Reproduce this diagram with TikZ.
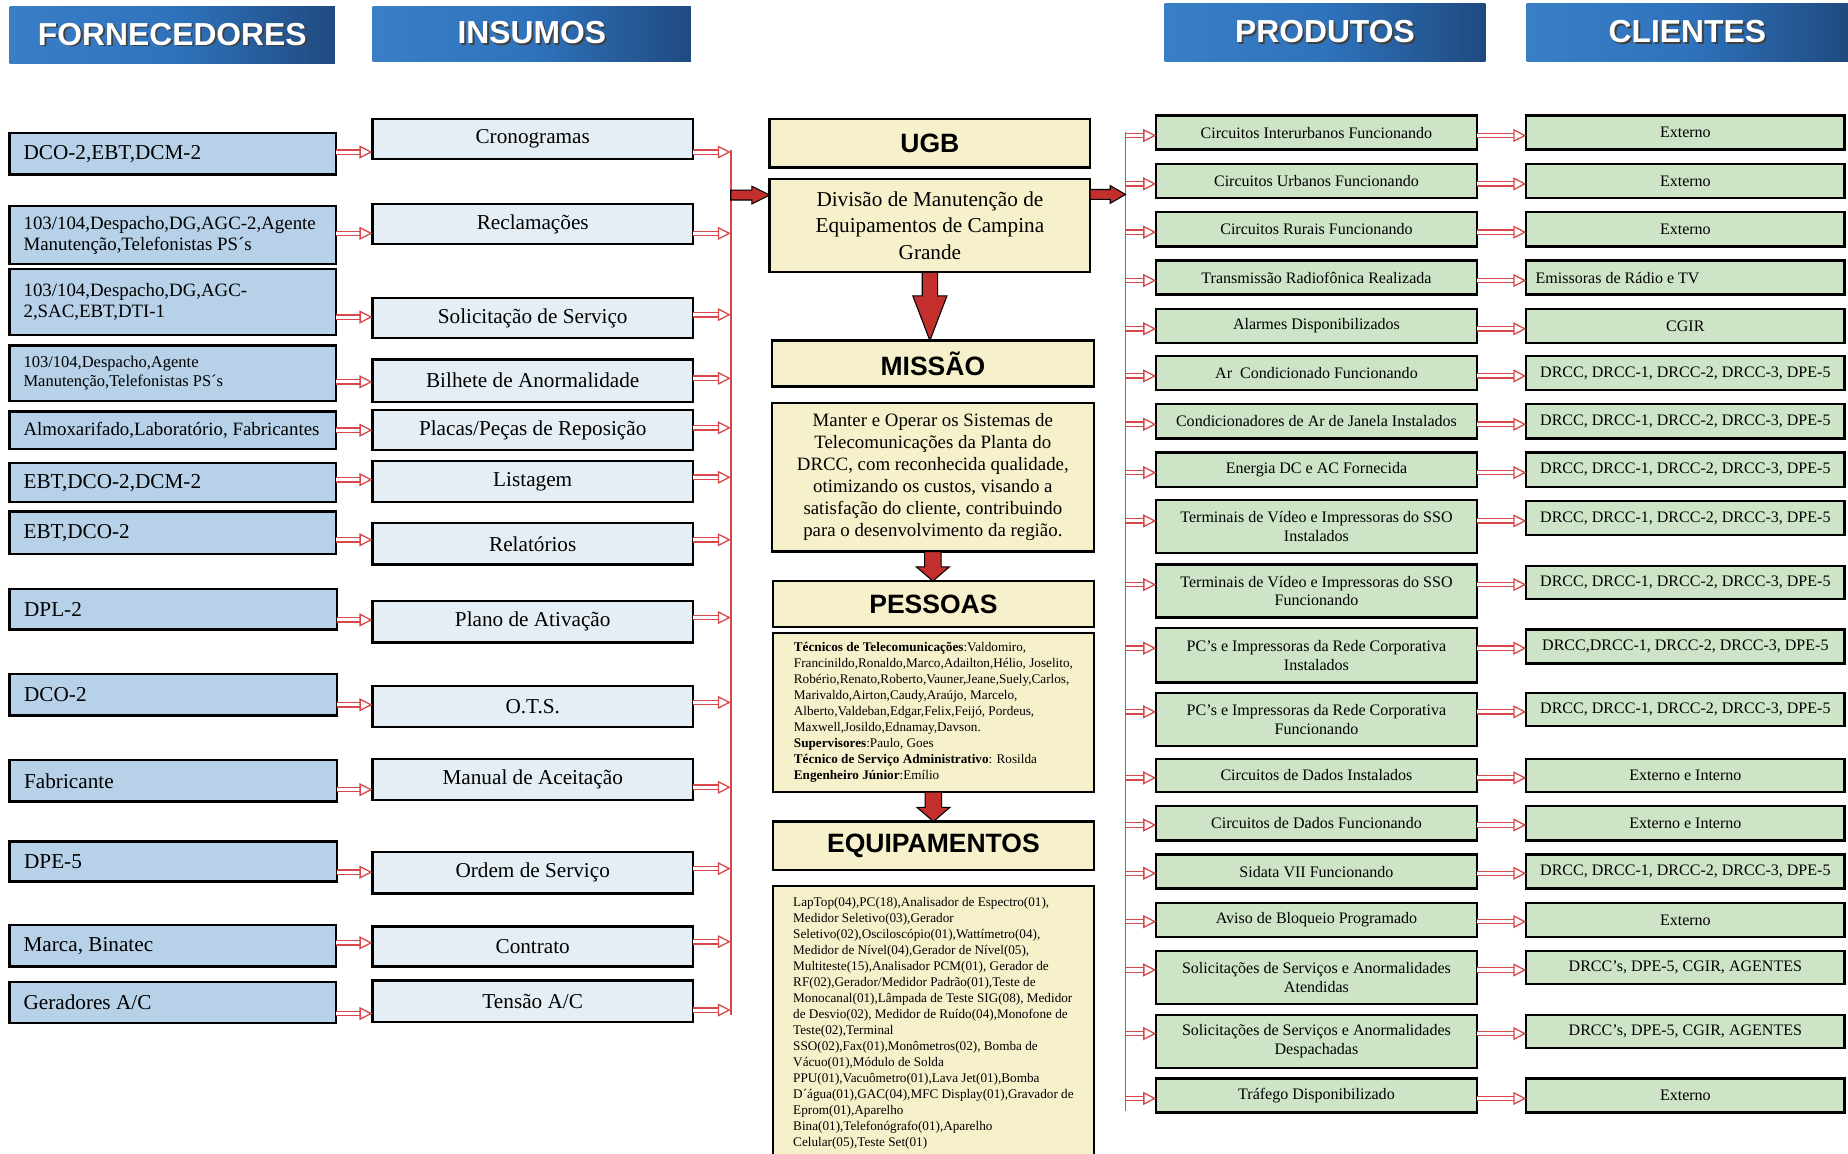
\documentclass[tikz,border=0pt]{standalone}
\usepackage{fontspec}
\setmainfont{Liberation Serif}
\setsansfont{Liberation Sans}
\usetikzlibrary{arrows.meta,calc}
\definecolor{hdrA}{HTML}{3A7EC6}
\definecolor{hdrM}{HTML}{2F73BD}
\definecolor{hdrB}{HTML}{1F4A80}
\definecolor{supblue}{HTML}{B6D1E8}
\definecolor{insbg}{HTML}{E5EEF4}
\definecolor{cream}{HTML}{F7F1CB}
\definecolor{grn}{HTML}{CDE5C6}
\definecolor{arrred}{HTML}{D8474A}
\definecolor{blkred}{HTML}{C22F2D}
\newcommand\shd[1]{\rlap{\kern1.6pt\raisebox{-1.6pt}{\textcolor{black!75}{#1}}}#1}
\newcommand\bx[7]{\node[#1, anchor=north west, minimum width={(#5-#3)*1pt}, minimum height={(#6-#4)*1pt}] (#2) at (#3,#4) {#7};}
\newcommand\darrow[5]{\filldraw[blk] let \p1=(#1), \p2=(#2) in (\x1-#3,\y1) -- (\x1+#3,\y1) -- (\x1+#3,\y2+#5) -- (\x1+#4,\y2+#5) -- (\x1,\y2) -- (\x1-#4,\y2+#5) -- (\x1-#3,\y2+#5) -- cycle;}
\newcommand\harrow[5]{\filldraw[blk] let \p1=(#1), \p2=(#2) in (\x1,\y1-#3) -- (\x1,\y1+#3) -- (\x2-#5,\y1+#3) -- (\x2-#5,\y1+#4) -- (\x2,\y1) -- (\x2-#5,\y1-#4) -- (\x2-#5,\y1-#3) -- cycle;}
\tikzset{
  box/.style={draw=black, line width=2pt, outer sep=0pt, inner sep=2pt},
  hdr/.style={left color=hdrA, right color=hdrB, middle color=hdrM, text=white, font=\sffamily\bfseries\fontsize{27}{30}\selectfont, inner sep=0pt},
  sup/.style={box, fill=supblue, align=flush left, text width=253pt, inner xsep=12pt, font=\fontsize{18}{20}\selectfont},
  ins/.style={box, fill=insbg, font=\fontsize{18}{20}\selectfont},
  ttl/.style={box, fill=cream, font=\sffamily\bfseries\fontsize{22.5}{24}\selectfont},
  ctx/.style={box, fill=cream},
  prd/.style={box, fill=grn, align=flush center, font=\fontsize{13.6}{16}\selectfont},
  lft/.style={align=flush left, text width=254pt, inner xsep=8pt},
  dbl/.style={draw=arrred, line width=1.1pt, double=white, double distance=2.6pt, -{Triangle[open, length=11pt, width=11pt, line width=1.1pt]}},
  bus/.style={draw=arrred, line width=1.5pt},
  blk/.style={fill=blkred, draw=black, line width=0.9pt, line join=miter}
}
\begin{document}
\begin{tikzpicture}[x=1pt,y=-1pt]
\useasboundingbox[fill=white] (0,0) rectangle (1568,979);
% headers
\bx{hdr}{hF}{8}{5}{284}{54}{\shd{FORNECEDORES}}
\bx{hdr}{hI}{316}{5}{586}{52}{\shd{INSUMOS}}
\bx{hdr}{hP}{988}{3}{1260}{52}{\shd{PRODUTOS}}
\bx{hdr}{hC}{1295}{3}{1568}{52}{\shd{CLIENTES}}
% suppliers
\bx{sup}{s1}{8}{113}{285}{148}{DCO-2,EBT,DCM-2}
\bx{sup, font=\fontsize{16}{18}\selectfont}{s2}{8}{175}{285}{224}{103/104,Despacho,DG,AGC-2,Agente\\Manutenção,Telefonistas PS´s}
\bx{sup, font=\fontsize{16}{17.5}\selectfont}{s3}{8}{228}{285}{284}{103/104,Despacho,DG,AGC-\\2,SAC,EBT,DTI-1}
\bx{sup, font=\fontsize{14}{16}\selectfont}{s4}{8}{293}{285}{340}{103/104,Despacho,Agente\\Manutenção,Telefonistas PS´s}
\bx{sup, font=\fontsize{16}{18}\selectfont}{s5}{8}{349}{285}{381}{Almoxarifado,Laboratório, Fabricantes}
\bx{sup}{s6}{8}{393}{285}{426}{EBT,DCO-2,DCM-2}
\bx{sup}{s7}{8}{434}{285}{470}{EBT,DCO-2}
\bx{sup}{s8}{8}{500}{286}{534}{DPL-2}
\bx{sup}{s9}{8}{572}{286}{607}{DCO-2}
\bx{sup}{s10}{8}{645}{286}{680}{Fabricante}
\bx{sup}{s11}{8}{714}{286}{748}{DPE-5}
\bx{sup}{s12}{8}{785}{285}{820}{Marca, Binatec}
\bx{sup}{s13}{8}{833}{285}{868}{Geradores A/C}
% inputs
\bx{ins}{i1}{316}{101}{588}{135}{Cronogramas}
\bx{ins}{i2}{316}{173}{588}{207}{Reclamações}
\bx{ins}{i3}{316}{253}{588}{287}{Solicitação de Serviço}
\bx{ins}{i4}{316}{305}{588}{341}{Bilhete de Anormalidade}
\bx{ins}{i5}{316}{348}{588}{382}{Placas/Peças de Reposição}
\bx{ins}{i6}{316}{391}{588}{426}{Listagem}
\bx{ins}{i7}{316}{444}{588}{479}{Relatórios}
\bx{ins}{i8}{316}{510}{588}{545}{Plano de Ativação}
\bx{ins}{i9}{316}{582}{588}{617}{O.T.S.}
\bx{ins}{i10}{316}{644}{588}{679}{Manual de Aceitação}
\bx{ins}{i11}{316}{723}{588}{758}{Ordem de Serviço}
\bx{ins}{i12}{316}{786}{588}{820}{Contrato}
\bx{ins}{i13}{316}{832}{588}{867}{Tensão A/C}
% centre
\bx{ttl}{ugb}{653}{101}{925}{142}{UGB}
\bx{ctx, align=flush center, font=\fontsize{18}{22.5}\selectfont}{div}{653}{152}{925}{231}{Divisão de Manutenção de\\Equipamentos de Campina\\Grande}
\bx{ttl}{mis}{655}{289}{928}{328}{MISSÃO}
\bx{ctx, align=flush center, font=\fontsize{16}{18.7}\selectfont}{mtx}{655}{342}{928}{468}{Manter e Operar os Sistemas de\\Telecomunicações da Planta do\\DRCC, com reconhecida qualidade,\\otimizando os custos, visando a\\satisfação do cliente, contribuindo\\para o desenvolvimento da região.}
\bx{ttl}{pes}{656}{493}{928}{532}{PESSOAS}
\bx{ctx, align=flush left, font=\fontsize{11.2}{13.6}\selectfont}{ptx}{656}{537}{928}{672}{\textbf{Técnicos de Telecomunicações}:Valdomiro,\\Francinildo,Ronaldo,Marco,Adailton,Hélio, Joselito,\\Robério,Renato,Roberto,Vauner,Jeane,Suely,Carlos,\\Marivaldo,Airton,Caudy,Araújo, Marcelo,\\Alberto,Valdeban,Edgar,Felix,Feijó, Pordeus,\\Maxwell,Josildo,Ednamay,Davson.\\\textbf{Supervisores}:Paulo, Goes\\\textbf{Técnico de Serviço Administrativo}: Rosilda\\\textbf{Engenheiro Júnior}:Emílio}
\bx{ttl}{equ}{656}{697}{928}{738}{EQUIPAMENTOS}
\bx{ctx, align=flush left, font=\fontsize{11.2}{13.6}\selectfont}{etx}{656}{752}{928}{985}{LapTop(04),PC(18),Analisador de Espectro(01),\\Medidor Seletivo(03),Gerador\\Seletivo(02),Osciloscópio(01),Wattímetro(04),\\Medidor de Nível(04),Gerador de Nível(05),\\Multiteste(15),Analisador PCM(01), Gerador de\\RF(02),Gerador/Medidor Padrão(01),Teste de\\Monocanal(01),Lâmpada de Teste SIG(08), Medidor\\de Desvio(02), Medidor de Ruído(04),Monofone de\\Teste(02),Terminal\\SSO(02),Fax(01),Monômetros(02), Bomba de\\Vácuo(01),Módulo de Solda\\PPU(01),Vacuômetro(01),Lava Jet(01),Bomba\\D´água(01),GAC(04),MFC Display(01),Gravador de\\Eprom(01),Aparelho\\Bina(01),Telefonógrafo(01),Aparelho\\Celular(05),Teste Set(01)}
% products
\bx{prd}{p1}{981}{98}{1253}{127}{Circuitos Interurbanos Funcionando}
\bx{prd}{p2}{981}{139}{1253}{168}{Circuitos Urbanos Funcionando}
\bx{prd}{p3}{981}{180}{1253}{209}{Circuitos Rurais Funcionando}
\bx{prd}{p4}{981}{221}{1253}{250}{Transmissão Radiofônica Realizada}
\bx{prd}{p5}{981}{262}{1253}{291}{Alarmes Disponibilizados}
\bx{prd}{p6}{981}{302}{1253}{331}{Ar\ \ Condicionado Funcionando}
\bx{prd}{p7}{981}{343}{1253}{372}{Condicionadores de Ar de Janela Instalados}
\bx{prd}{p8}{981}{384}{1253}{413}{Energia DC e AC Fornecida}
\bx{prd}{p9}{981}{424}{1253}{469}{Terminais de Vídeo e Impressoras do SSO\\Instalados}
\bx{prd}{p10}{981}{479}{1253}{524}{Terminais de Vídeo e Impressoras do SSO\\Funcionando}
\bx{prd}{p11}{981}{533}{1253}{579}{PC’s e Impressoras da Rede Corporativa\\Instalados}
\bx{prd}{p12}{981}{588}{1253}{633}{PC’s e Impressoras da Rede Corporativa\\Funcionando}
\bx{prd}{p13}{981}{644}{1253}{672}{Circuitos de Dados Instalados}
\bx{prd}{p14}{981}{684}{1253}{713}{Circuitos de Dados Funcionando}
\bx{prd}{p15}{981}{725}{1253}{754}{Sidata VII Funcionando}
\bx{prd}{p16}{981}{766}{1253}{795}{Aviso de Bloqueio Programado}
\bx{prd}{p17}{981}{807}{1253}{852}{Solicitações de Serviços e Anormalidades\\Atendidas}
\bx{prd}{p18}{981}{861}{1253}{906}{Solicitações de Serviços e Anormalidades\\Despachadas}
\bx{prd}{p19}{981}{915}{1253}{944}{Tráfego Disponibilizado}
% clients
\bx{prd}{c1}{1295}{98}{1565}{127}{Externo}
\bx{prd}{c2}{1295}{139}{1565}{168}{Externo}
\bx{prd}{c3}{1295}{180}{1565}{209}{Externo}
\bx{prd, lft}{c4}{1295}{221}{1565}{250}{Emissoras de Rádio e TV}
\bx{prd}{c5}{1295}{262}{1565}{291}{CGIR}
\bx{prd}{c6}{1295}{302}{1565}{331}{DRCC, DRCC-1, DRCC-2, DRCC-3, DPE-5}
\bx{prd}{c7}{1295}{343}{1565}{372}{DRCC, DRCC-1, DRCC-2, DRCC-3, DPE-5}
\bx{prd}{c8}{1295}{384}{1565}{413}{DRCC, DRCC-1, DRCC-2, DRCC-3, DPE-5}
\bx{prd}{c9}{1295}{425}{1565}{454}{DRCC, DRCC-1, DRCC-2, DRCC-3, DPE-5}
\bx{prd}{c10}{1295}{480}{1565}{508}{DRCC, DRCC-1, DRCC-2, DRCC-3, DPE-5}
\bx{prd}{c11}{1295}{534}{1565}{563}{DRCC,DRCC-1, DRCC-2, DRCC-3, DPE-5}
\bx{prd}{c12}{1295}{588}{1565}{616}{DRCC, DRCC-1, DRCC-2, DRCC-3, DPE-5}
\bx{prd}{c13}{1295}{644}{1565}{672}{Externo e Interno}
\bx{prd}{c14}{1295}{684}{1565}{713}{Externo e Interno}
\bx{prd}{c15}{1295}{725}{1565}{754}{DRCC, DRCC-1, DRCC-2, DRCC-3, DPE-5}
\bx{prd}{c16}{1295}{766}{1565}{795}{Externo}
\bx{prd}{c17}{1295}{807}{1565}{835}{DRCC’s, DPE-5, CGIR, AGENTES}
\bx{prd}{c18}{1295}{861}{1565}{889}{DRCC’s, DPE-5, CGIR, AGENTES}
\bx{prd}{c19}{1295}{915}{1565}{944}{Externo}
% buses
\coordinate (bl1) at (620,127);
\coordinate (bl2) at (620,861);
\coordinate (br1) at (955,112);
\coordinate (br2) at (955,943);
\draw[bus] (bl1) -- (bl2);
\draw[bus] (br1) -- (br2);
% supplier -> input
\foreach \n/\y in {1/129,2/198,3/269,4/324,5/365,6/407,7/458,8/526,9/598,10/670,11/740,12/800,13/860}
  \draw[dbl] (s\n.east |- 0,\y) -- (i\n.west |- 0,\y);
% input -> bus
\foreach \n/\y in {1/129,2/198,3/267,4/321,5/363,6/405,7/458,8/524,9/596,10/668,11/737,12/799,13/857}
  \draw[dbl] (i\n.east |- 0,\y) -- (bl1 |- 0,\y);
% bus -> product -> client
\foreach \n/\y in {1/115,2/156,3/197,4/238,5/279,6/319,7/360,8/401,9/442,10/496,11/550,12/604,13/660,14/700,15/741,16/782,17/823,18/877,19/932}{
  \draw[dbl] (br1 |- 0,\y) -- (p\n.west |- 0,\y);
  \draw[dbl] (p\n.east |- 0,\y) -- (c\n.west |- 0,\y);
}
% block arrows
\coordinate (hl) at (620,165.5);
\harrow{hl}{div.west}{4.2pt}{7.5pt}{15pt}
\coordinate (hr) at (div.east |- 0,165);
\harrow{hr}{br1 |- hr}{4.2pt}{7.5pt}{13pt}
\darrow{div.south}{mis.north}{6.5pt}{14.5pt}{38pt}
\darrow{mtx.south}{pes.north}{7pt}{14pt}{12pt}
\darrow{ptx.south}{equ.north}{7pt}{14pt}{12pt}
\end{tikzpicture}
\end{document}
